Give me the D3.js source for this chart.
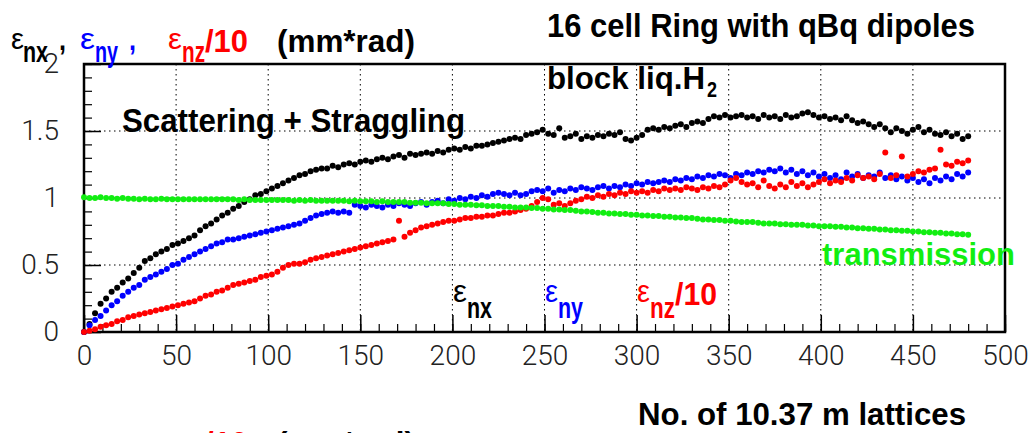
<!DOCTYPE html>
<html>
<head>
<meta charset="utf-8">
<script src="https://cdn.jsdelivr.net/npm/d3@7"></script>
<style>
  body { margin: 0; background: #fff; }
  svg { display: block; }
  .tick text { font-family: Roboto, "DejaVu Sans", sans-serif; font-weight: 300; }
</style>
</head>
<body>
<svg id="chart" width="1034" height="433"></svg>
<script>
// lattice numbers (x), one reading every 3 lattices
var lattice = d3.range(0, 481, 3);

// eps_nx (black)
var epsNx = [
  0.00,0.06,0.14,0.21,0.25,0.30,0.33,0.37,0.40,0.44,
  0.48,0.53,0.55,0.58,0.60,0.62,0.65,0.66,0.68,0.70,
  0.72,0.76,0.79,0.81,0.84,0.87,0.89,0.92,0.94,0.97,
  0.99,1.02,1.03,1.05,1.07,1.09,1.11,1.13,1.15,1.17,
  1.18,1.20,1.21,1.22,1.22,1.24,1.23,1.25,1.26,1.25,
  1.27,1.28,1.27,1.29,1.30,1.29,1.31,1.32,1.30,1.33,
  1.32,1.33,1.34,1.33,1.35,1.34,1.36,1.37,1.36,1.38,
  1.37,1.39,1.39,1.40,1.41,1.42,1.43,1.44,1.45,1.44,
  1.47,1.48,1.49,1.51,1.48,1.47,1.52,1.45,1.46,1.48,
  1.44,1.46,1.45,1.47,1.46,1.48,1.47,1.49,1.44,1.43,
  1.45,1.47,1.51,1.52,1.51,1.53,1.52,1.54,1.55,1.53,
  1.56,1.57,1.56,1.59,1.61,1.60,1.62,1.60,1.61,1.62,
  1.60,1.61,1.59,1.62,1.60,1.61,1.59,1.62,1.60,1.61,
  1.63,1.64,1.62,1.60,1.61,1.59,1.60,1.58,1.61,1.58,
  1.56,1.57,1.55,1.53,1.55,1.52,1.49,1.52,1.50,1.48,
  1.51,1.53,1.49,1.51,1.48,1.47,1.49,1.46,1.48,1.44,
  1.46
];

// eps_ny (blue)
var epsNy = [
  0.00,0.05,0.09,0.12,0.16,0.20,0.23,0.27,0.30,0.33,
  0.35,0.39,0.41,0.43,0.45,0.47,0.50,0.51,0.54,0.56,
  0.58,0.60,0.62,0.64,0.66,0.67,0.69,0.69,0.70,0.71,
  0.72,0.73,0.74,0.75,0.76,0.77,0.78,0.79,0.80,0.81,
  0.83,0.85,0.87,0.88,0.89,0.90,0.89,0.90,0.89,0.95,
  0.94,0.93,0.95,0.94,0.93,0.95,0.94,0.96,0.95,0.94,
  0.96,0.97,0.95,0.97,0.98,0.96,0.99,0.98,1.00,0.99,
  1.01,1.00,1.02,1.01,1.03,1.04,1.03,1.02,1.04,1.02,
  1.03,1.05,1.06,1.05,1.07,1.04,1.06,1.05,1.07,1.06,
  1.08,1.07,1.06,1.08,1.09,1.07,1.09,1.08,1.10,1.09,
  1.11,1.10,1.12,1.11,1.12,1.13,1.12,1.14,1.13,1.15,
  1.14,1.16,1.15,1.17,1.16,1.18,1.17,1.15,1.18,1.17,
  1.19,1.18,1.20,1.19,1.21,1.20,1.22,1.19,1.21,1.18,
  1.20,1.17,1.19,1.16,1.18,1.15,1.17,1.14,1.19,1.16,
  1.18,1.15,1.17,1.16,1.19,1.15,1.17,1.14,1.16,1.13,
  1.15,1.12,1.14,1.11,1.15,1.13,1.16,1.14,1.18,1.16,
  1.19
];

// eps_nz / 10 (red)
var epsNz10 = [
  0.00,0.01,0.02,0.04,0.05,0.06,0.08,0.09,0.11,0.12,
  0.13,0.14,0.15,0.16,0.17,0.18,0.19,0.20,0.21,0.22,
  0.23,0.25,0.27,0.28,0.30,0.31,0.33,0.35,0.36,0.37,
  0.38,0.39,0.41,0.42,0.43,0.45,0.48,0.50,0.51,0.51,
  0.52,0.54,0.55,0.56,0.57,0.58,0.59,0.60,0.61,0.62,
  0.63,0.64,0.65,0.66,0.67,0.68,0.69,0.83,0.71,0.74,
  0.76,0.78,0.79,0.80,0.81,0.82,0.83,0.83,0.84,0.85,
  0.85,0.86,0.86,0.87,0.87,0.88,0.89,0.89,0.90,0.91,
  0.92,0.94,0.97,1.00,0.99,0.95,0.96,0.94,0.96,0.98,
  0.99,1.01,1.00,1.02,1.01,1.03,1.02,1.04,1.03,1.05,
  1.04,1.05,1.04,1.06,1.05,1.07,1.06,1.07,1.06,1.08,
  1.07,1.06,1.08,1.07,1.09,1.08,1.10,1.13,1.15,1.12,
  1.10,1.11,1.08,1.13,1.09,1.07,1.10,1.08,1.12,1.09,
  1.11,1.08,1.10,1.12,1.14,1.11,1.13,1.12,1.15,1.13,
  1.17,1.15,1.16,1.14,1.18,1.34,1.15,1.17,1.31,1.16,
  1.18,1.20,1.19,1.21,1.22,1.36,1.25,1.24,1.27,1.26,
  1.28
];

// transmission (green)
var transmission = [
  1.005,1.00,1.00,1.005,1.00,1.00,0.995,1.00,0.995,0.995,
  0.99,0.995,0.99,0.99,0.995,0.99,0.99,0.99,0.99,0.99,
  0.99,0.99,0.99,0.99,0.99,0.99,0.99,0.99,0.985,0.99,
  0.985,0.985,0.985,0.985,0.985,0.985,0.985,0.985,0.98,0.985,
  0.98,0.985,0.98,0.98,0.98,0.98,0.98,0.98,0.975,0.98,
  0.975,0.975,0.975,0.97,0.975,0.97,0.97,0.97,0.97,0.965,
  0.965,0.965,0.96,0.96,0.96,0.96,0.955,0.955,0.95,0.95,
  0.95,0.945,0.945,0.94,0.94,0.94,0.935,0.935,0.93,0.93,
  0.93,0.925,0.925,0.92,0.92,0.915,0.915,0.91,0.91,0.905,
  0.90,0.90,0.895,0.89,0.89,0.885,0.885,0.88,0.88,0.875,
  0.875,0.87,0.87,0.865,0.865,0.86,0.86,0.855,0.855,0.85,
  0.85,0.845,0.84,0.84,0.835,0.835,0.83,0.83,0.825,0.82,
  0.82,0.82,0.815,0.81,0.81,0.81,0.805,0.805,0.80,0.80,
  0.80,0.795,0.795,0.79,0.79,0.79,0.785,0.785,0.78,0.78,
  0.775,0.775,0.77,0.77,0.765,0.765,0.76,0.76,0.755,0.755,
  0.75,0.75,0.745,0.745,0.74,0.74,0.735,0.735,0.73,0.73,
  0.725
];

var xTicks = [0, 50, 100, 150, 200, 250, 300, 350, 400, 450, 500];
var yTicks = [0, 0.5, 1, 1.5, 2];
var xMinor = d3.range(0, 501, 10);
var yMinor = d3.range(0, 2.01, 0.1);

var svg = d3.select("#chart"),
    margin = {top: 64, right: 29, bottom: 101, left: 84},
    width = +svg.attr("width") - margin.left - margin.right,
    height = +svg.attr("height") - margin.top - margin.bottom,
    g = svg.append("g").attr("transform", "translate(" + margin.left + "," + margin.top + ")");

var x = d3.scaleLinear().domain([0, 500]).range([0, width]);
var y = d3.scaleLinear().domain([0, 2]).range([height, 0]);

var boldFont = '"Liberation Sans", Arial, sans-serif';

// condensed bold text, fitted to the width measured on the picture
function label(parent, px, py, s, size, w, color, weight) {
    return parent.append("text")
        .attr("x", px).attr("y", py)
        .attr("font-family", boldFont)
        .attr("font-weight", weight || "bold")
        .attr("font-size", size)
        .attr("fill", color || "#000")
        .attr("textLength", w)
        .attr("lengthAdjust", "spacingAndGlyphs")
        .text(s);
}

// dotted grid
g.append("g").selectAll("line")
    .data(xTicks.slice(1, -1))
    .enter().append("line")
    .attr("x1", x).attr("x2", x)
    .attr("y1", 0).attr("y2", height)
    .attr("stroke", "#000").attr("stroke-width", 1)
    .attr("stroke-dasharray", "1.5,3.5");

g.append("g").selectAll("line")
    .data([0.5, 1, 1.5])
    .enter().append("line")
    .attr("y1", y).attr("y2", y)
    .attr("x1", 0).attr("x2", width)
    .attr("stroke", "#000").attr("stroke-width", 1)
    .attr("stroke-dasharray", "1.5,3.5");

// minor ticks (inward)
g.append("g")
    .attr("transform", "translate(0," + height + ")")
    .call(d3.axisBottom(x).tickValues(xMinor).tickSize(-8).tickFormat(""))
    .call(function(a) { a.select(".domain").remove(); a.selectAll("line").attr("stroke-width", 1.2); });

g.append("g")
    .call(d3.axisLeft(y).tickValues(yMinor).tickSize(-8).tickFormat(""))
    .call(function(a) { a.select(".domain").remove(); a.selectAll("line").attr("stroke-width", 1.2); });

// major ticks with labels
g.append("g")
    .attr("transform", "translate(0," + height + ")")
    .call(d3.axisBottom(x).tickValues(xTicks).tickSize(-17).tickPadding(13).tickFormat(d3.format("d")))
    .call(function(a) {
        a.select(".domain").remove();
        a.selectAll("line").attr("stroke-width", 1.5);
        a.selectAll("text").attr("font-size", 28).attr("fill", "#222");
    });

g.append("g")
    .call(d3.axisLeft(y).tickValues(yTicks).tickSize(-17).tickPadding(25)
        .tickFormat(function(d) { return d3.format("")(d); }))
    .call(function(a) {
        a.select(".domain").remove();
        a.selectAll("line").attr("stroke-width", 1.5);
        a.selectAll("text").attr("font-size", 28).attr("fill", "#222");
    });

// frame
g.append("rect")
    .attr("width", width).attr("height", height)
    .attr("fill", "none").attr("stroke", "#000").attr("stroke-width", 2.5);

// points
var series = [
    {values: epsNx, color: "#000000"},
    {values: epsNy, color: "#0000ff"},
    {values: epsNz10, color: "#ff0000"},
    {values: transmission, color: "#11ee11"}
];

series.forEach(function(s) {
    g.append("g").selectAll("circle")
        .data(s.values)
        .enter().append("circle")
        .attr("cx", function(d, i) { return x(lattice[i]); })
        .attr("cy", function(d) { return y(d); })
        .attr("r", 3)
        .attr("fill", s.color);
});

// y axis title (top left); a copy sits cut off at the bottom edge
function yTitle(dy) {
    var t = svg.append("g").attr("transform", "translate(0," + dy + ")");
    label(t, 11, 49, "\u03b5", 30, 13, "#000", "normal");
    label(t, 23, 62, "nx", 30, 25, "#000");
    label(t, 59, 50, ",", 30, 7, "#000");
    label(t, 80, 49, "\u03b5", 30, 15, "#0000ff", "normal");
    label(t, 95, 62, "ny", 30, 23, "#0000ff");
    label(t, 129, 50, ",", 30, 7, "#0000ff");
    label(t, 168, 49, "\u03b5", 30, 14, "#ff0000", "normal");
    label(t, 182, 62, "nz", 30, 23, "#ff0000");
    label(t, 205, 52, "/10", 31, 43, "#ff0000");
    label(t, 277, 52, "(mm*rad)", 31, 138, "#000");
}
yTitle(0);
yTitle(402);

// headings
label(svg, 547, 37, "16 cell Ring with qBq dipoles", 33, 428);
label(svg, 547, 89, "block liq.H", 31, 158);
label(svg, 707, 97, "2", 22, 10);
label(svg, 122, 132, "Scattering + Straggling", 33, 343);
label(svg, 638, 425, "No. of 10.37 m lattices", 32, 328);
label(svg, 822, 265, "transmission", 31, 193, "#11ee11");

// legend inside the frame
label(svg, 453, 302, "\u03b5", 31, 14, "#000", "normal");
label(svg, 467, 318, "nx", 30, 25, "#000");
label(svg, 545, 302, "\u03b5", 31, 13, "#0000ff", "normal");
label(svg, 558, 318, "ny", 30, 25, "#0000ff");
label(svg, 637, 302, "\u03b5", 31, 13, "#ff0000", "normal");
label(svg, 650, 318, "nz", 30, 25, "#ff0000");
label(svg, 675, 305, "/10", 31, 42, "#ff0000");
</script>
</body>
</html>
